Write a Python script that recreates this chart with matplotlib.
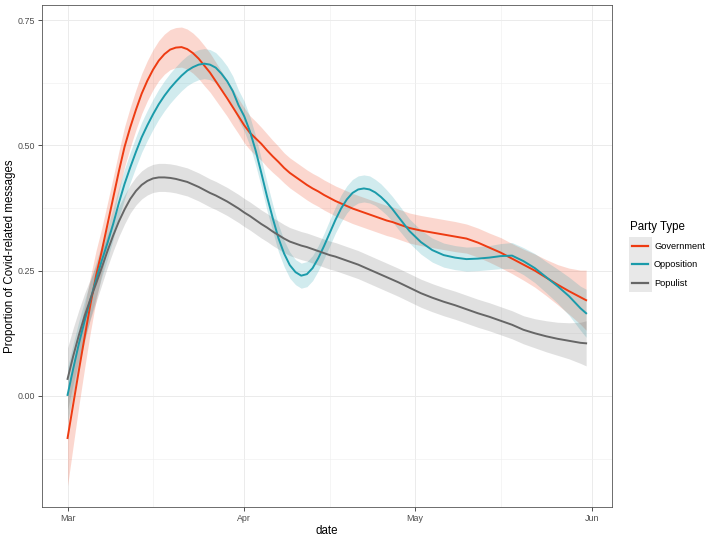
import numpy as np
import matplotlib
matplotlib.use("Agg")
import matplotlib.pyplot as plt
from matplotlib.patches import Rectangle
from matplotlib.lines import Line2D
from matplotlib.legend_handler import HandlerBase

plt.rcParams['font.family'] = ['Liberation Sans', 'DejaVu Sans']

# days after 1 March 2020 (daily until day 58, then every second day)
days = list(range(0, 59)) + list(range(60, 91, 2)) + [91]

government = [
    -0.084, -0.016, 0.052, 0.118, 0.182, 0.240, 0.289, 0.342, 0.395, 0.448,
    0.497, 0.536, 0.571, 0.603, 0.629, 0.651, 0.669, 0.682, 0.691, 0.695,
    0.696, 0.692, 0.684, 0.673, 0.659, 0.645, 0.628, 0.611, 0.594, 0.576,
    0.558, 0.540, 0.525, 0.514, 0.503, 0.490, 0.478, 0.467, 0.455, 0.445,
    0.437, 0.429, 0.421, 0.414, 0.408, 0.401, 0.395, 0.389, 0.384, 0.379,
    0.374, 0.370, 0.366, 0.362, 0.358, 0.354, 0.350, 0.347, 0.343,
    0.335, 0.330, 0.326, 0.322, 0.318, 0.314, 0.306, 0.296, 0.286, 0.274,
    0.262, 0.250, 0.236, 0.222, 0.209, 0.197,
    0.191]
government_se = [
    0.095, 0.082, 0.070, 0.062, 0.055, 0.050, 0.046, 0.043, 0.041, 0.040,
    0.040, 0.040, 0.040, 0.040, 0.040, 0.040, 0.040, 0.040, 0.040, 0.040,
    0.040, 0.040, 0.040, 0.040, 0.040, 0.039, 0.038, 0.037, 0.036, 0.036,
    0.035, 0.035, 0.034, 0.034, 0.033, 0.033, 0.032, 0.031, 0.030, 0.030,
    0.030, 0.030, 0.030, 0.030, 0.030, 0.030, 0.030, 0.030, 0.030, 0.030,
    0.030, 0.030, 0.030, 0.030, 0.030, 0.030, 0.030, 0.030, 0.030,
    0.030, 0.030, 0.030, 0.030, 0.030, 0.029, 0.029, 0.029, 0.030, 0.030,
    0.031, 0.033, 0.036, 0.040, 0.046, 0.054,
    0.060]

opposition = [
    0.002, 0.055, 0.105, 0.150, 0.192, 0.232, 0.270, 0.305, 0.343, 0.385,
    0.423, 0.456, 0.487, 0.516, 0.540, 0.562, 0.582, 0.599, 0.614, 0.627,
    0.639, 0.649, 0.656, 0.661, 0.663, 0.661, 0.655, 0.643, 0.628, 0.608,
    0.580, 0.558, 0.528, 0.490, 0.445, 0.398, 0.355, 0.315, 0.284, 0.261,
    0.247, 0.240, 0.243, 0.255, 0.275, 0.299, 0.325, 0.351, 0.374, 0.392,
    0.405, 0.412, 0.414, 0.412, 0.406, 0.397, 0.386, 0.373, 0.358,
    0.329, 0.307, 0.291, 0.281, 0.276, 0.273, 0.274, 0.276, 0.279, 0.280,
    0.269, 0.255, 0.237, 0.219, 0.199, 0.175,
    0.165]
opposition_se = [
    0.055, 0.050, 0.045, 0.041, 0.037, 0.035, 0.033, 0.032, 0.031, 0.030,
    0.030, 0.030, 0.030, 0.030, 0.030, 0.030, 0.030, 0.030, 0.030, 0.030,
    0.030, 0.030, 0.030, 0.030, 0.030, 0.030, 0.030, 0.030, 0.030, 0.030,
    0.030, 0.030, 0.029, 0.029, 0.028, 0.028, 0.027, 0.027, 0.026, 0.026,
    0.025, 0.025, 0.025, 0.025, 0.025, 0.025, 0.026, 0.026, 0.027, 0.027,
    0.027, 0.027, 0.027, 0.027, 0.026, 0.026, 0.025, 0.025, 0.025,
    0.024, 0.024, 0.024, 0.024, 0.024, 0.024, 0.024, 0.024, 0.025, 0.026,
    0.027, 0.029, 0.031, 0.034, 0.038, 0.044,
    0.048]

populist = [
    0.034, 0.080, 0.122, 0.160, 0.193, 0.224, 0.256, 0.289, 0.320, 0.348,
    0.372, 0.393, 0.409, 0.421, 0.429, 0.434, 0.436, 0.436, 0.435, 0.433,
    0.430, 0.427, 0.422, 0.417, 0.411, 0.405, 0.400, 0.394, 0.388, 0.381,
    0.374, 0.366, 0.359, 0.351, 0.343, 0.336, 0.328, 0.321, 0.314, 0.308,
    0.304, 0.300, 0.297, 0.293, 0.289, 0.285, 0.281, 0.278, 0.274, 0.270,
    0.266, 0.262, 0.257, 0.252, 0.247, 0.242, 0.237, 0.232, 0.227,
    0.216, 0.205, 0.196, 0.188, 0.181, 0.173, 0.165, 0.158, 0.150, 0.142,
    0.132, 0.125, 0.119, 0.114, 0.110, 0.106,
    0.105]
populist_se = [
    0.062, 0.056, 0.050, 0.045, 0.040, 0.037, 0.034, 0.032, 0.031, 0.030,
    0.029, 0.028, 0.028, 0.028, 0.028, 0.028, 0.028, 0.028, 0.028, 0.028,
    0.028, 0.028, 0.028, 0.028, 0.028, 0.028, 0.028, 0.028, 0.028, 0.028,
    0.028, 0.028, 0.028, 0.028, 0.028, 0.028, 0.028, 0.028, 0.028, 0.028,
    0.028, 0.028, 0.028, 0.028, 0.028, 0.028, 0.028, 0.028, 0.028, 0.028,
    0.028, 0.028, 0.028, 0.028, 0.028, 0.028, 0.028, 0.028, 0.028,
    0.028, 0.028, 0.028, 0.028, 0.028, 0.028, 0.028, 0.028, 0.028, 0.028,
    0.028, 0.029, 0.031, 0.033, 0.036, 0.041,
    0.045]

party_types = ['Government', 'Opposition', 'Populist']
colors = ['#EE3B12', '#1B9BAA', '#666666']

month_ticks = np.array(['2020-03-01', '2020-04-01', '2020-05-01', '2020-06-01'],
                       dtype='datetime64[D]')
month_labels = ['Mar', 'Apr', 'May', 'Jun']


class KeyHandler(HandlerBase):
    # grey key box with the coloured line centred in it (ggplot style)
    def create_artists(self, legend, orig_handle, xdescent, ydescent,
                       width, height, fontsize, trans):
        box = Rectangle((-xdescent, -ydescent), width, height,
                        facecolor='#E8E8E8', edgecolor='none', transform=trans)
        y = -ydescent + height / 2
        x0 = -xdescent + 0.13 * width
        x1 = -xdescent + 0.83 * width
        line = Line2D([x0, x1], [y, y], color=orig_handle.get_color(),
                      lw=1.6, transform=trans)
        return [box, line]


dates = np.datetime64('2020-03-01') + np.array(days)
series = [(government, government_se), (opposition, opposition_se),
          (populist, populist_se)]

fig = plt.figure(figsize=(7.09, 5.37), dpi=100)
ax = fig.add_axes([0.0588, 0.0564, 0.8044, 0.9343])

lines = []
for (vals, se), col in zip(series, colors):
    vals = np.array(vals)
    se = np.array(se)
    ax.fill_between(dates, vals - se, vals + se, color=col, alpha=0.2,
                    linewidth=0, zorder=2)
    ln, = ax.plot(dates, vals, color=col, lw=1.4, zorder=3, solid_joinstyle='round')
    lines.append(ln)

# ggplot style expansion (5 %)
span = dates[-1] - dates[0]
pad = span.astype(float) * 0.05
ax.set_xlim(dates[0] - np.timedelta64(int(pad * 24), 'h'),
            dates[-1] + np.timedelta64(int(pad * 24), 'h'))
ax.set_ylim(-0.221, 0.78)

ax.set_xticks(month_ticks)
ax.set_xticklabels(month_labels)
minor_x = month_ticks[:-1] + (month_ticks[1:] - month_ticks[:-1]) / 2
ax.set_xticks(minor_x, minor=True)
ax.set_yticks([0.0, 0.25, 0.50, 0.75])
ax.set_yticklabels(['0.00', '0.25', '0.50', '0.75'])
ax.set_yticks([-0.125, 0.125, 0.375, 0.625], minor=True)

ax.grid(which='major', color='#EBEBEB', lw=0.7, zorder=0)
ax.grid(which='minor', color='#F0F0F0', lw=0.45, zorder=0)
ax.set_axisbelow(True)
ax.tick_params(which='major', length=3, width=0.6, color='#333333',
               labelsize=6.4, labelcolor='#4D4D4D', pad=2)
ax.tick_params(which='minor', length=0)
for s in ax.spines.values():
    s.set_color('#555555')
    s.set_linewidth(0.6)

ax.set_xlabel('date', fontsize=8.3, labelpad=2)
ax.set_ylabel('Proportion of Covid-related messages', fontsize=8.3, labelpad=1)

fig.text(630 / 709, 1 - 227 / 537, 'Party Type', fontsize=8.3, ha='left', va='center')
ax.legend(lines, party_types, handler_map={Line2D: KeyHandler()},
          loc='upper left', bbox_to_anchor=(629 / 709, 1 - 237 / 537),
          bbox_transform=fig.transFigure, frameon=False, fontsize=6.7,
          handlelength=2.45, handleheight=2.65, labelspacing=0.0,
          handletextpad=0.25, borderpad=0, borderaxespad=0)

fig.savefig('out.png', dpi=100)
